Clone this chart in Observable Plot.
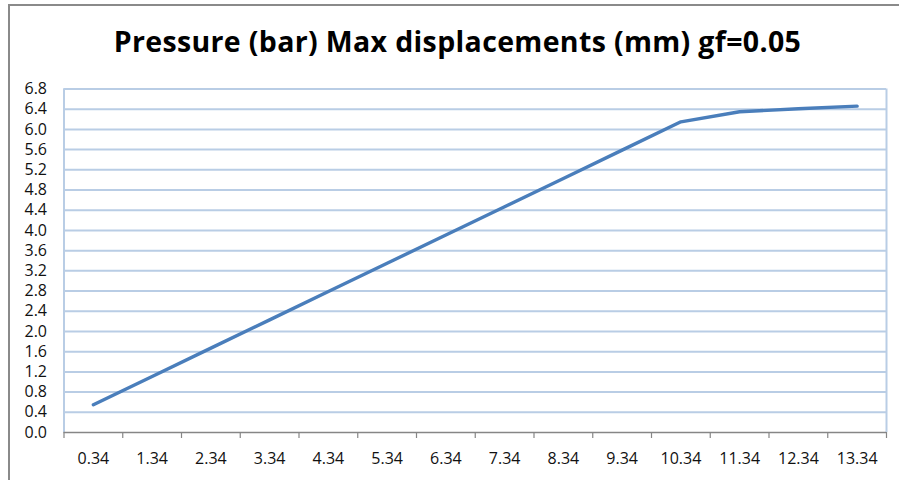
<!DOCTYPE html>
<html>
<head>
<meta charset="utf-8">
<script src="https://cdn.jsdelivr.net/npm/d3@7"></script>
<script src="https://cdn.jsdelivr.net/npm/@observablehq/plot@0.6"></script>
<style>
  html, body { margin: 0; padding: 0; background: #fff; }
  #chart {
    position: relative;
    width: 899px;
    height: 480px;
    overflow: hidden;
    font-family: "Open Sans", sans-serif;
  }
  #frame {
    position: absolute;
    left: 8px;
    top: 4px;
    width: 900px;
    height: 500px;
    border-left: 2px solid #8a8a8a;
    border-top: 2px solid #8a8a8a;
    pointer-events: none;
  }
  #title {
    height: 60px;
    padding-left: 16px;
    text-align: center;
    font-weight: bold;
    font-size: 28.5px;
    letter-spacing: 0.35px;
    color: #000;
    white-space: nowrap;
  }
  #title span { line-height: normal; display: inline-block; margin-top: 22px; }
</style>
</head>
<body>
<div id="chart">
  <div id="frame"></div>
  <div id="title"><span>Pressure (bar) Max displacements (mm) gf=0.05</span></div>
</div>
<script>
// Pressure steps (bar), as printed on the category axis
const pressureLabels = ["0.34", "1.34", "2.34", "3.34", "4.34", "5.34", "6.34",
                        "7.34", "8.34", "9.34", "10.34", "11.34", "12.34", "13.34"];
// Maximum displacement (mm) at each pressure step
const maxDisplacement = [0.55, 1.11, 1.67, 2.23, 2.79, 3.35, 3.91,
                         4.47, 5.03, 5.59, 6.15, 6.35, 6.41, 6.46];
// Value axis ticks
const yTicks = [0, 0.4, 0.8, 1.2, 1.6, 2.0, 2.4, 2.8, 3.2, 3.6, 4.0, 4.4,
                4.8, 5.2, 5.6, 6.0, 6.4, 6.8];

const pressures = pressureLabels.map(Number);
const data = pressures.map((p, i) => ({pressure: p, displacement: maxDisplacement[i]}));

// Category boundaries sit half a step either side of each pressure value
const boundaries = [pressures[0] - 0.5, ...pressures.map(p => p + 0.5)];
const xDomain = [boundaries[0], boundaries[boundaries.length - 1]];

const gridColor = "#b9cde5";
const fontFamily = "'Open Sans', sans-serif";

const chart = Plot.plot({
  width: 899,
  height: 420,
  marginLeft: 63.5,
  marginRight: 13,
  marginTop: 28.5,
  marginBottom: 48,
  style: {fontFamily, fontSize: "16px", color: "#111", background: "transparent"},
  x: {domain: xDomain, label: null},
  y: {domain: [0, 6.8], label: null},
  marks: [
    // horizontal gridlines
    Plot.ruleY(yTicks.filter(v => v > 0), {stroke: gridColor, strokeWidth: 2}),
    // left and right edges of the plot area
    Plot.ruleX(xDomain, {stroke: gridColor, strokeWidth: 2}),
    // value axis labels
    Plot.axisY({ticks: yTicks, tickFormat: d3.format(".1f"), tickSize: 0, tickPadding: 17,
                fontSize: 16, fill: "#111"}),
    // category axis: tick marks on the boundaries, labels in between
    Plot.ruleY([0], {stroke: "#868686", strokeWidth: 1.5}),
    Plot.axisX({ticks: boundaries, tickFormat: () => "", tickSize: 6, stroke: "#868686",
                strokeWidth: 1.2}),
    Plot.axisX({ticks: pressures, tickFormat: (d, i) => pressureLabels[i], tickSize: 0,
                tickPadding: 20, fontSize: 16, fill: "#111"}),
    // the displacement curve
    Plot.line(data, {x: "pressure", y: "displacement", stroke: "#4a7ebb", strokeWidth: 3.4,
                     strokeLinejoin: "round", strokeLinecap: "round"})
  ]
});

document.getElementById("chart").appendChild(chart);
</script>
</body>
</html>
